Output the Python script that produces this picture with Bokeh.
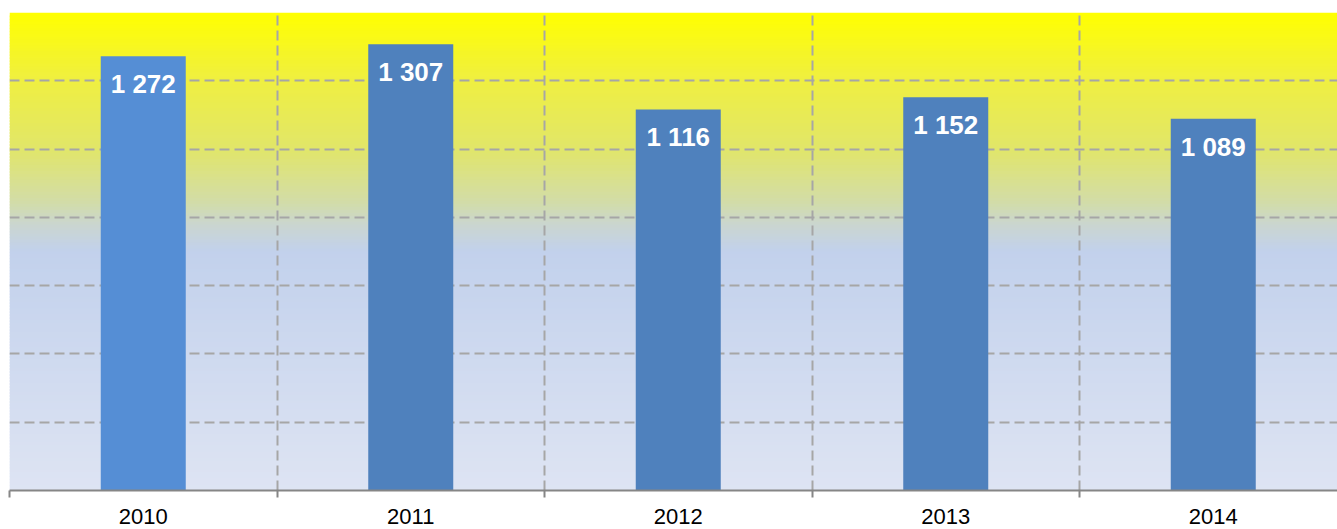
from bokeh.plotting import figure
from bokeh.models import Range1d, FixedTicker, ColumnDataSource
from bokeh.core.properties import value
from bokeh.embed import file_html
from bokeh.resources import INLINE

years = ["2010", "2011", "2012", "2013", "2014"]
values = [1272, 1307, 1116, 1152, 1089]
labels = ["1 272", "1 307", "1 116", "1 152", "1 089"]
bar_colors = ["#558ED5", "#4F81BD", "#4F81BD", "#4F81BD", "#4F81BD"]

Y_MAX = 1400
X_END = 1328 / 267.5

p = figure(width=1337, height=529, output_backend="svg", toolbar_location=None,
           x_range=Range1d(0, X_END), y_range=Range1d(0, Y_MAX),
           min_border_left=9, min_border_right=0, min_border_top=12, min_border_bottom=39)
p.outline_line_color = None
p.background_fill_color = "#FFFFFF"
p.border_fill_color = "#FFFFFF"

# background gradient (style)
stops = [(0.0, (255, 255, 0)), (0.142, (239, 239, 65)), (0.285, (225, 230, 105)),
         (0.40, (210, 220, 170)), (0.44, (203, 214, 205)), (0.50, (194, 209, 236)),
         (1.0, (222, 228, 243))]
def col_at(t):
    for (t0, c0), (t1, c1) in zip(stops[:-1], stops[1:]):
        if t0 <= t <= t1:
            f = (t - t0) / (t1 - t0)
            return "#%02x%02x%02x" % tuple(int(round(a + (b - a) * f)) for a, b in zip(c0, c1))
    return "#%02x%02x%02x" % stops[-1][1]
n = 160
tops, bottoms, cols = [], [], []
for i in range(n):
    t = (i + 0.5) / n
    tops.append(Y_MAX * (1 - i / n))
    bottoms.append(Y_MAX * (1 - (i + 1) / n) - 6)
    cols.append(col_at(t))
bg = p.quad(left=0, right=6, top=tops, bottom=bottoms, fill_color=cols, line_color=None)
bg.level = "image"

xs = [i + 0.5 for i in range(len(years))]
src = ColumnDataSource(dict(x=xs, top=values, color=bar_colors, label=labels))
p.vbar(x="x", top="top", width=85 / 267.5, bottom=0, fill_color="color", line_color=None, source=src)
p.text(x="x", y="top", text="label", source=src, text_color="#FFFFFF",
       text_font=value("Liberation Sans"), text_font_style="bold", text_font_size="26px",
       text_align="center", text_baseline="middle", y_offset=28)

p.yaxis.visible = False
p.xaxis.ticker = FixedTicker(ticks=xs, minor_ticks=list(range(len(years) + 1)))
p.xaxis.major_label_overrides = {x: y for x, y in zip(xs, years)}
p.xaxis.major_tick_line_color = None
p.xaxis.minor_tick_in = 0
p.xaxis.minor_tick_out = 7
p.xaxis.minor_tick_line_color = "#868686"
p.xaxis.minor_tick_line_width = 2
p.xaxis.axis_line_color = "#868686"
p.xaxis.axis_line_width = 2
p.xaxis.major_label_text_font = "Liberation Sans"
p.xaxis.major_label_text_font_size = "22px"
p.xaxis.major_label_text_color = "#000000"
p.xaxis.major_label_standoff = 11

p.xgrid.ticker = FixedTicker(ticks=list(range(len(years) + 1)))
p.ygrid.ticker = FixedTicker(ticks=list(range(200, Y_MAX + 1, 200)))
for g in (p.xgrid, p.ygrid):
    g.grid_line_color = "#A6A6A6"
    g.grid_line_width = 2
    g.grid_line_dash = "10 5"

open("out.html", "w").write(file_html(p, INLINE))
